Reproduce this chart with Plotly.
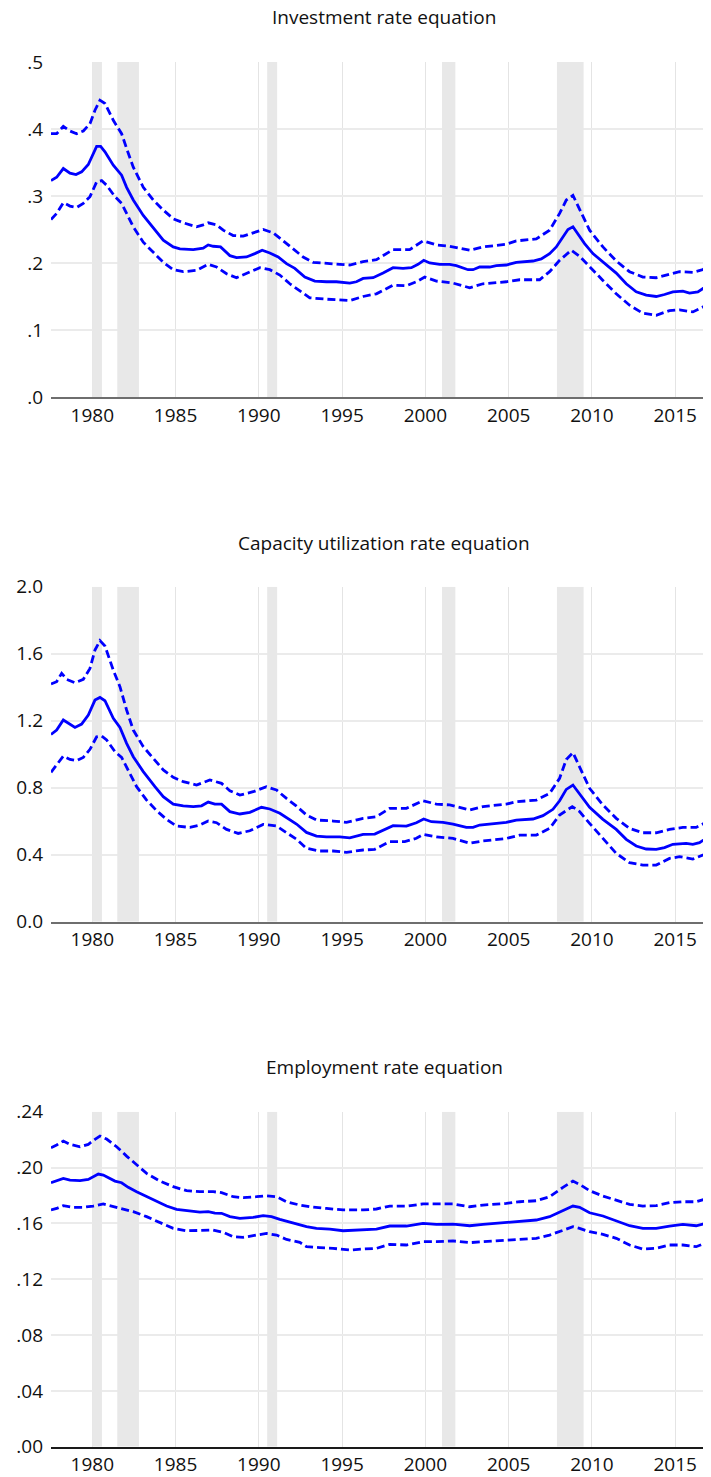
import plotly.graph_objects as go

# ---------------- data ----------------
titles = ["Investment rate equation", "Capacity utilization rate equation", "Employment rate equation"]

recession_start = [1980.0, 1981.5, 1990.5, 2001.0, 2007.9]
recession_end = [1980.58, 1982.8, 1991.1, 2001.8, 2009.5]

# Panel 1: investment rate equation
inv_mid_t = [1977.52, 1977.86, 1978.26, 1978.66, 1979.02, 1979.36, 1979.76, 1980.06, 1980.26, 1980.5, 1980.76,
             1981.26, 1981.76, 1982.06, 1982.46, 1983.06, 1983.76, 1984.26, 1984.86, 1985.26, 1986.06, 1986.66,
             1986.96, 1987.26, 1987.7, 1988.26, 1988.66, 1989.26, 1989.76, 1990.2, 1990.66, 1991.16, 1991.66,
             1992.16, 1992.76, 1993.36, 1994.06, 1994.66, 1995.46, 1995.86, 1996.26, 1996.86, 1997.46, 1998.06,
             1998.66, 1999.16, 1999.56, 1999.9, 2000.26, 2000.86, 2001.46, 2001.86, 2002.56, 2002.86, 2003.26,
             2003.86, 2004.26, 2004.86, 2005.46, 2006.46, 2006.96, 2007.46, 2007.86, 2008.26, 2008.56, 2008.86,
             2009.16, 2009.56, 2010.06, 2010.66, 2011.46, 2012.06, 2012.66, 2013.26, 2013.86, 2014.36, 2014.86,
             2015.46, 2015.86, 2016.36, 2016.76, 2017.12]
inv_mid_v = [.323, .328, .341, .334, .332, .336, .347, .363, .374, .374, .366,
             .346, .331, .313, .294, .271, .249, .234, .224, .221, .220, .222,
             .227, .225, .224, .211, .208, .209, .214, .219, .215, .209, .199,
             .192, .179, .173, .172, .172, .170, .172, .177, .178, .185, .193,
             .192, .193, .198, .204, .200, .198, .198, .196, .190, .190, .194,
             .194, .196, .197, .201, .203, .206, .214, .224, .238, .250, .254,
             .243, .229, .214, .201, .185, .169, .157, .152, .150, .153, .157,
             .158, .155, .157, .164, .169]

inv_up_t = [1977.52, 1977.86, 1978.26, 1978.66, 1979.06, 1979.46, 1979.86, 1980.16, 1980.46, 1980.76, 1981.26,
            1981.76, 1982.06, 1982.46, 1983.06, 1983.66, 1984.26, 1984.86, 1985.46, 1986.26, 1986.66, 1986.96,
            1987.46, 1987.86, 1988.46, 1989.06, 1989.66, 1990.26, 1990.86, 1991.46, 1992.06, 1992.66, 1993.26,
            1994.06, 1994.86, 1995.46, 1996.26, 1997.06, 1998.06, 1999.06, 1999.86, 2000.66, 2001.46, 2002.66,
            2003.46, 2004.86, 2005.46, 2006.66, 2007.46, 2008.06, 2008.46, 2008.86, 2009.26, 2009.86, 2010.66,
            2011.46, 2012.26, 2013.06, 2013.86, 2014.66, 2015.26, 2016.06, 2016.66, 2017.12]
inv_up_v = [.393, .393, .404, .397, .393, .397, .408, .428, .443, .438, .413,
            .393, .371, .343, .313, .294, .279, .266, .260, .254, .257, .260,
            .257, .249, .241, .240, .245, .250, .245, .233, .221, .209, .201,
            .199, .198, .197, .202, .205, .220, .220, .233, .227, .225, .219,
            .224, .228, .233, .236, .249, .274, .294, .301, .281, .249, .224,
            .203, .187, .179, .178, .183, .187, .186, .190, .199]

inv_lo_t = [1977.52, 1977.86, 1978.26, 1978.66, 1979.06, 1979.46, 1979.86, 1980.26, 1980.56, 1980.86, 1981.36,
            1981.76, 1982.06, 1982.46, 1983.06, 1983.66, 1984.26, 1984.86, 1985.46, 1986.26, 1986.96, 1987.46,
            1988.06, 1988.66, 1989.26, 1990.06, 1990.66, 1991.26, 1991.86, 1992.46, 1993.06, 1994.06, 1994.86,
            1995.46, 1996.26, 1997.06, 1998.06, 1998.86, 1999.46, 1999.96, 2000.66, 2001.66, 2002.66, 2003.46,
            2004.86, 2005.66, 2006.86, 2007.46, 2008.06, 2008.76, 2009.26, 2009.86, 2010.66, 2011.46, 2012.26,
            2013.06, 2013.86, 2014.66, 2015.26, 2016.06, 2016.66, 2017.12]
inv_lo_v = [.265, .274, .290, .285, .283, .289, .299, .321, .323, .316, .299,
            .289, .274, .254, .231, .216, .201, .190, .187, .189, .198, .194,
            .184, .178, .184, .193, .190, .182, .169, .159, .148, .146, .145,
            .144, .150, .154, .167, .166, .172, .179, .173, .170, .163, .169,
            .172, .175, .175, .187, .204, .219, .210, .194, .174, .154, .137,
            .125, .122, .129, .130, .127, .134, .140]

# Panel 2: capacity utilization rate equation
cap_mid_t = [1977.52, 1977.86, 1978.26, 1978.56, 1978.96, 1979.36, 1979.76, 1980.16, 1980.46, 1980.76, 1981.26,
             1981.66, 1982.06, 1982.46, 1983.06, 1983.76, 1984.26, 1984.86, 1985.46, 1986.06, 1986.56, 1986.96,
             1987.36, 1987.76, 1988.26, 1988.86, 1989.46, 1990.16, 1990.66, 1991.26, 1991.86, 1992.26, 1992.86,
             1993.46, 1994.06, 1994.86, 1995.46, 1996.26, 1996.96, 1997.46, 1998.06, 1998.86, 1999.46, 1999.9,
             2000.36, 2001.06, 2001.66, 2002.46, 2002.86, 2003.26, 2004.26, 2004.86, 2005.46, 2006.46, 2007.06,
             2007.66, 2008.06, 2008.46, 2008.86, 2009.26, 2009.86, 2010.66, 2011.46, 2012.06, 2012.66, 2013.26,
             2013.86, 2014.36, 2014.86, 2015.66, 2016.06, 2016.46, 2016.86, 2017.12]
cap_mid_v = [1.118, 1.144, 1.204, 1.184, 1.160, 1.180, 1.234, 1.323, 1.339, 1.319, 1.214,
             1.160, 1.065, .985, .896, .806, .746, .702, .692, .687, .692, .714,
             .702, .702, .657, .643, .653, .683, .673, .647, .607, .583, .533,
             .511, .507, .507, .501, .521, .523, .547, .573, .571, .591, .613,
             .597, .593, .583, .563, .563, .577, .587, .593, .607, .613, .633,
             .671, .722, .790, .816, .762, .683, .611, .551, .492, .452, .434,
             .432, .442, .462, .468, .462, .472, .497, .513]

cap_up_t = [1977.52, 1977.86, 1978.16, 1978.46, 1978.96, 1979.46, 1979.86, 1980.16, 1980.46, 1980.76, 1981.26,
            1981.66, 1982.06, 1982.46, 1983.06, 1983.66, 1984.26, 1984.86, 1985.46, 1986.26, 1987.06, 1987.76,
            1988.26, 1988.86, 1989.66, 1990.46, 1991.06, 1991.66, 1992.26, 1992.86, 1993.46, 1994.46, 1995.26,
            1995.96, 1996.26, 1997.06, 1997.86, 1998.86, 1999.86, 2000.66, 2001.46, 2002.66, 2003.46, 2004.86,
            2005.46, 2006.66, 2007.46, 2008.06, 2008.46, 2008.86, 2009.26, 2009.86, 2010.66, 2011.46, 2012.26,
            2013.06, 2013.86, 2014.66, 2015.46, 2016.26, 2016.66, 2017.12]
cap_up_v = [1.419, 1.433, 1.483, 1.447, 1.427, 1.447, 1.512, 1.622, 1.678, 1.646, 1.502,
            1.403, 1.264, 1.144, 1.045, .975, .906, .862, .836, .816, .846, .826,
            .782, .756, .776, .806, .786, .736, .690, .637, .607, .601, .593,
            .610, .617, .627, .677, .677, .722, .702, .697, .667, .687, .702,
            .716, .726, .766, .856, .969, 1.009, .925, .796, .697, .617, .557,
            .531, .531, .551, .563, .563, .583, .617]

cap_lo_t = [1977.52, 1977.86, 1978.26, 1978.66, 1979.06, 1979.46, 1979.86, 1980.26, 1980.56, 1980.86, 1981.36,
            1981.76, 1982.16, 1982.66, 1983.26, 1983.86, 1984.46, 1985.06, 1985.86, 1986.46, 1986.96, 1987.46,
            1988.06, 1988.76, 1989.46, 1990.26, 1991.06, 1991.66, 1992.26, 1992.86, 1993.66, 1994.46, 1995.26,
            1995.96, 1996.26, 1996.96, 1997.86, 1998.76, 1999.46, 1999.86, 2000.66, 2001.66, 2002.66, 2003.46,
            2004.86, 2005.66, 2006.66, 2007.46, 2008.06, 2008.82, 2009.26, 2009.86, 2010.66, 2011.46, 2012.26,
            2013.06, 2013.86, 2014.66, 2015.26, 2016.06, 2016.66, 2017.12]
cap_lo_v = [.892, .935, .989, .969, .961, .981, 1.029, 1.104, 1.108, 1.085, 1.015,
            .981, .906, .806, .726, .663, .611, .571, .563, .577, .601, .591,
            .551, .527, .543, .581, .571, .531, .492, .438, .422, .422, .414,
            .424, .428, .432, .478, .478, .498, .521, .507, .497, .468, .482,
            .497, .517, .517, .557, .637, .687, .657, .587, .497, .408, .352,
            .338, .338, .378, .388, .374, .398, .418]

# Panel 3: employment rate equation
emp_mid_t = [1977.52, 1977.86, 1978.26, 1978.66, 1979.26, 1979.76, 1980.06, 1980.36, 1980.66, 1981.06, 1981.36,
             1981.76, 1982.16, 1982.66, 1983.26, 1983.86, 1984.46, 1985.06, 1985.86, 1986.46, 1986.96, 1987.36,
             1987.76, 1988.26, 1988.86, 1989.66, 1990.26, 1990.76, 1991.26, 1991.76, 1992.26, 1992.86, 1993.46,
             1994.26, 1995.06, 1995.96, 1996.26, 1997.06, 1997.86, 1998.86, 1999.86, 2000.66, 2001.66, 2002.66,
             2003.46, 2004.86, 2005.66, 2006.66, 2007.46, 2008.16, 2008.86, 2009.26, 2009.86, 2010.66, 2011.46,
             2012.26, 2013.06, 2013.86, 2014.66, 2015.46, 2016.26, 2016.66, 2017.12]
emp_mid_v = [.1891, .1903, .1922, .1910, .1906, .1915, .1934, .1953, .1946, .1922, .1903,
             .1891, .1858, .1827, .1791, .1760, .1724, .1700, .1688, .1681, .1684, .1674,
             .1672, .1648, .1636, .1643, .1655, .1648, .1629, .1612, .1600, .1576, .1564,
             .1559, .1547, .1552, .1552, .1559, .1581, .1581, .1600, .1593, .1595, .1583,
             .1593, .1607, .1617, .1624, .1648, .1684, .1724, .1715, .1676, .1653, .1619,
             .1583, .1564, .1564, .1581, .1593, .1583, .1595, .1619]

emp_up_t = [1977.52, 1977.86, 1978.26, 1978.66, 1979.26, 1979.76, 1980.16, 1980.46, 1980.86, 1981.46, 1982.06,
            1982.66, 1983.26, 1984.06, 1984.86, 1985.66, 1986.46, 1987.26, 1987.76, 1988.46, 1989.06, 1989.86,
            1990.46, 1991.06, 1991.66, 1992.46, 1993.06, 1994.06, 1995.06, 1995.96, 1996.26, 1997.06, 1997.86,
            1998.86, 1999.86, 2000.66, 2001.66, 2002.66, 2003.46, 2004.86, 2005.66, 2006.66, 2007.46, 2008.26,
            2008.86, 2009.26, 2009.86, 2010.66, 2011.46, 2012.26, 2013.06, 2013.86, 2014.66, 2015.46, 2016.26,
            2016.66, 2017.12]
emp_up_v = [.2142, .2161, .2190, .2166, .2149, .2166, .2202, .2226, .2204, .2149, .2082,
            .2018, .1958, .1903, .1863, .1834, .1827, .1827, .1820, .1791, .1784, .1791,
            .1798, .1791, .1755, .1731, .1719, .1707, .1696, .1696, .1696, .1703, .1724,
            .1724, .1739, .1739, .1739, .1719, .1731, .1743, .1755, .1762, .1791, .1858,
            .1903, .1879, .1834, .1796, .1767, .1736, .1724, .1727, .1748, .1755, .1755,
            .1767, .1784]

emp_lo_t = [1977.52, 1977.86, 1978.26, 1978.86, 1979.46, 1980.06, 1980.66, 1981.26, 1981.86, 1982.46, 1983.26,
            1984.06, 1984.86, 1985.66, 1986.46, 1987.26, 1987.86, 1988.46, 1989.06, 1989.86, 1990.46, 1991.06,
            1991.66, 1992.46, 1992.86, 1993.66, 1994.46, 1995.46, 1995.96, 1996.26, 1997.06, 1997.86, 1998.86,
            1999.86, 2000.66, 2001.66, 2002.66, 2003.46, 2004.86, 2005.66, 2006.66, 2007.46, 2008.26, 2008.86,
            2009.26, 2009.86, 2010.66, 2011.46, 2012.26, 2013.06, 2013.86, 2014.66, 2015.46, 2016.26, 2016.66,
            2017.12]
emp_lo_v = [.1696, .1707, .1727, .1715, .1715, .1724, .1739, .1719, .1703, .1684, .1648,
            .1607, .1564, .1547, .1547, .1552, .1536, .1504, .1500, .1516, .1528, .1516,
            .1485, .1464, .1433, .1426, .1421, .1409, .1416, .1416, .1421, .1450, .1445,
            .1469, .1469, .1474, .1462, .1469, .1481, .1488, .1493, .1516, .1552, .1576,
            .1564, .1540, .1521, .1493, .1445, .1416, .1421, .1445, .1445, .1433, .1452,
            .1469]

y_ranges = [[0, 0.5], [0, 2.0], [0, 0.24]]
y_tickvals = [[0, .1, .2, .3, .4, .5], [0, .4, .8, 1.2, 1.6, 2.0], [0, .04, .08, .12, .16, .20, .24]]
y_ticktext = [[".0", ".1", ".2", ".3", ".4", ".5"],
              ["0.0", "0.4", "0.8", "1.2", "1.6", "2.0"],
              [".00", ".04", ".08", ".12", ".16", ".20", ".24"]]
x_tickvals = [1980, 1985, 1990, 1995, 2000, 2005, 2010, 2015]
x_range = [1977.52, 2017.15]

panels = [
    (inv_mid_t, inv_mid_v, inv_up_t, inv_up_v, inv_lo_t, inv_lo_v),
    (cap_mid_t, cap_mid_v, cap_up_t, cap_up_v, cap_lo_t, cap_lo_v),
    (emp_mid_t, emp_mid_v, emp_up_t, emp_up_v, emp_lo_t, emp_lo_v),
]

# ---------------- figure ----------------
# The page body has an 8px default margin, so the figure is sized and laid out
# to land at the reference's positions once offset by it.
OFF = 8
W, H = 711 - OFF, 1477 - OFF
ML = 51 - OFF
tops = [62 - OFF, 586.7 - OFF, 1111.7 - OFF]
bottoms = [397 - OFF, 921.7 - OFF, 1446.7 - OFF]
title_y = [17 - OFF, 543 - OFF, 1067 - OFF]
axis_line_colors = ["#6e6e6e", "#6e6e6e", "#1a1a1a"]

FONT = "Open Sans, Lato, sans-serif"
BLUE = "#0000ff"
TICKSIZE = 19

fig = go.Figure()
layout = dict(
    width=W, height=H,
    margin=dict(l=ML, r=0, t=0, b=0, pad=0),
    paper_bgcolor="white", plot_bgcolor="white",
    showlegend=False,
    font=dict(family=FONT, size=TICKSIZE, color="#111111"),
    template="none",
)

annotations = []
for i, (mt, mv, ut, uv, lt, lv) in enumerate(panels):
    n = "" if i == 0 else str(i + 1)
    xa = "x" + n
    ya = "y" + n
    ytop = y_ranges[i][1]
    # recession bands (drawn as filled traces so they sit above gridlines)
    for s, e in zip(recession_start, recession_end):
        fig.add_trace(go.Scatter(x=[s, s, e, e, s], y=[0, ytop, ytop, 0, 0], mode="lines",
                                 fill="toself", fillcolor="#e8e8e8", line=dict(width=0),
                                 hoverinfo="skip", xaxis=xa, yaxis=ya))
    fig.add_trace(go.Scatter(x=ut, y=uv, mode="lines", xaxis=xa, yaxis=ya,
                             line=dict(color=BLUE, width=2.8, dash="8px,4px")))
    fig.add_trace(go.Scatter(x=lt, y=lv, mode="lines", xaxis=xa, yaxis=ya,
                             line=dict(color=BLUE, width=2.8, dash="8px,4px")))
    fig.add_trace(go.Scatter(x=mt, y=mv, mode="lines", xaxis=xa, yaxis=ya,
                             line=dict(color=BLUE, width=2.8)))
    dom = [1 - bottoms[i] / H, 1 - tops[i] / H]
    layout["xaxis" + n] = dict(
        domain=[0, 1], range=x_range, anchor=ya,
        tickvals=x_tickvals, ticktext=[str(v) for v in x_tickvals],
        showgrid=True, gridcolor="#e4e4e4", gridwidth=1,
        showline=True, linecolor=axis_line_colors[i], linewidth=1.5,
        ticks="", zeroline=False, automargin=False,
        tickfont=dict(family=FONT, size=TICKSIZE, color="#111111"),
    )
    layout["yaxis" + n] = dict(
        domain=dom, range=y_ranges[i], anchor=xa,
        tickvals=y_tickvals[i], ticktext=y_ticktext[i],
        showgrid=True, gridcolor="#ebebeb", gridwidth=1.5,
        showline=False, ticks="", zeroline=False, automargin=False,
        tickfont=dict(family=FONT, size=TICKSIZE, color="#111111"),
        ticklabelstandoff=7,
    )
    annotations.append(dict(text=titles[i], xref="paper", yref="paper", x=0.505, y=1 - title_y[i] / H,
                            xanchor="center", yanchor="middle", showarrow=False,
                            font=dict(family=FONT, size=19, color="#111111")))

layout["annotations"] = annotations
fig.update_layout(**layout)
fig.write_html("out.html")
